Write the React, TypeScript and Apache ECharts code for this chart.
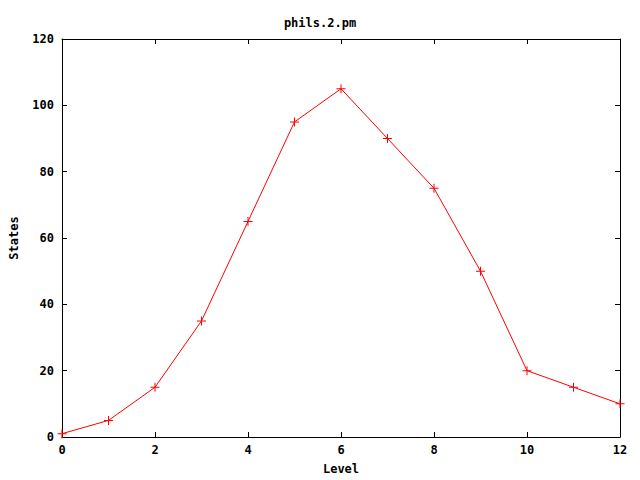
import React, { useEffect, useRef } from "react";
import * as echarts from "echarts";

const levels = [0, 1, 2, 3, 4, 5, 6, 7, 8, 9, 10, 11, 12];
const states = [1, 5, 15, 35, 65, 95, 105, 90, 75, 50, 20, 15, 10];
const titleText = "phils.2.pm";
const xName = "Level";
const yName = "States";

const FONT = "'DejaVu Sans Mono', 'Liberation Mono', monospace";

export default function App() {
  const ref = useRef<HTMLDivElement>(null);
  useEffect(() => {
    const chart = echarts.init(ref.current!, null, { renderer: "svg" });
    const axisLine = { show: true, onZero: false, lineStyle: { color: "#000", width: 1 } };
    const tick = { show: true, inside: true, length: 5, lineStyle: { color: "#000" } };
    const label = { color: "#000", fontFamily: FONT, fontWeight: "bold" as const, fontSize: 12 };
    chart.setOption({
      animation: false,
      backgroundColor: "#fff",
      title: {
        text: titleText,
        left: "center",
        top: 12,
        textStyle: { ...label },
      },
      grid: { left: 62, right: 20, top: 39, bottom: 40, containLabel: false },
      xAxis: [
        {
          type: "value",
          min: 0,
          max: 12,
          interval: 2,
          name: xName,
          nameLocation: "middle",
          nameGap: 26,
          nameTextStyle: label,
          axisLine,
          axisTick: tick,
          axisLabel: { ...label, margin: 7 },
          splitLine: { show: false },
        },
        {
          type: "value",
          position: "top",
          min: 0,
          max: 12,
          interval: 2,
          axisLine,
          axisTick: tick,
          axisLabel: { show: false },
          splitLine: { show: false },
        },
      ],
      yAxis: [
        {
          type: "value",
          min: 0,
          max: 120,
          interval: 20,
          name: yName,
          nameLocation: "middle",
          nameGap: 42,
          nameRotate: 90,
          nameTextStyle: label,
          axisLine,
          axisTick: tick,
          axisLabel: { ...label, margin: 8 },
          splitLine: { show: false },
        },
        {
          type: "value",
          position: "right",
          min: 0,
          max: 120,
          interval: 20,
          axisLine,
          axisTick: tick,
          axisLabel: { show: false },
          splitLine: { show: false },
        },
      ],
      series: [
        {
          type: "line",
          data: levels.map((l, i) => [l, states[i]]),
          lineStyle: { color: "#ff0000", width: 1 },
          itemStyle: { color: "#ff0000" },
          symbol: "path://M4,0h1v4h4v1h-4v4h-1v-4h-4v-1h4z",
          symbolSize: 9,
          showSymbol: true,
          clip: false,
        },
      ],
    });
    return () => chart.dispose();
  }, []);
  return (
    <div
      ref={ref}
      style={{ position: "absolute", left: 0, top: 0, width: 640, height: 480 }}
    />
  );
}
